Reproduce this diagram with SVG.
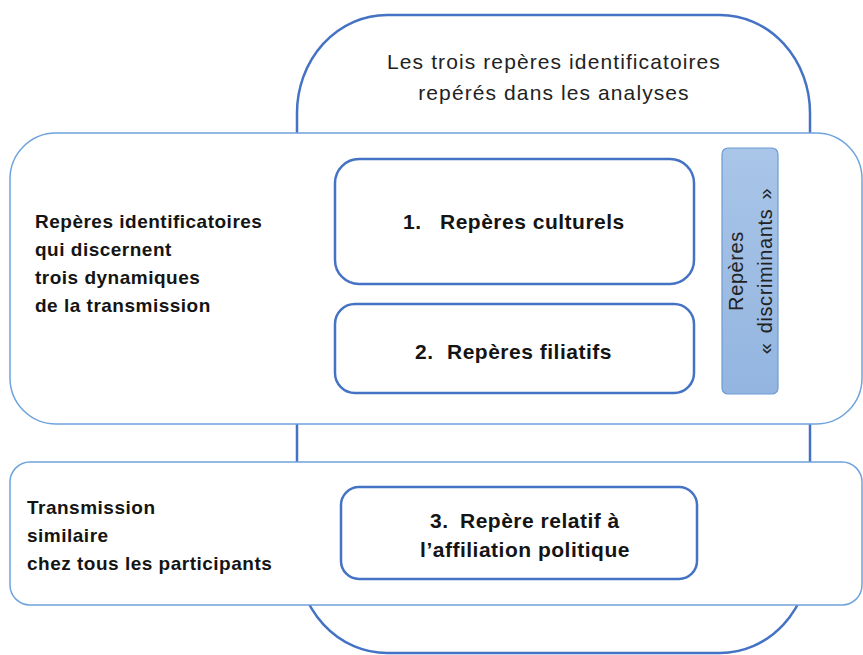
<svg xmlns="http://www.w3.org/2000/svg" width="863" height="655" viewBox="0 0 863 655">
  <style>
    .frame { fill: #ffffff; stroke: #4472C4; stroke-width: 2.5; }
    .band { fill: #ffffff; stroke: #6FA3DC; stroke-width: 1.5; }
    .item { fill: #ffffff; stroke: #4472C4; stroke-width: 2.5; }
    .tag { fill: url(#tagFill); stroke: #6D9BD3; stroke-width: 1.2; }
    text { font-family: "Liberation Sans", Arial, sans-serif; fill: #141414; }
    .title { font-size: 21px; letter-spacing: 1.1px; text-anchor: middle; fill: #222222; }
    .side { font-size: 19px; font-weight: bold; letter-spacing: 0.5px; }
    .label { font-size: 21px; font-weight: bold; letter-spacing: 0.5px; }
    .mid { text-anchor: middle; }
    .vert { font-size: 20px; letter-spacing: 0.6px; text-anchor: middle; fill: #222222; }
  </style>
  <defs>
    <linearGradient id="tagFill" x1="0" y1="0" x2="0" y2="1">
      <stop offset="0" stop-color="#A9C5E8"/>
      <stop offset="1" stop-color="#93B5E0"/>
    </linearGradient>
  </defs>

  <!-- outer frame holding the three markers -->
  <g id="frame">
    <rect class="frame" x="297" y="15" width="513" height="638" rx="90" ry="98"/>
    <text class="title" x="554" y="69">Les trois repères identificatoires</text>
    <text class="title" x="554" y="100">repérés dans les analyses</text>
  </g>

  <!-- upper band: discriminating markers -->
  <g id="band-discern">
    <rect class="band" x="10" y="133" width="852" height="291" rx="46"/>
    <text class="side" x="35" y="228">Repères identificatoires</text>
    <text class="side" x="35" y="256">qui discernent</text>
    <text class="side" x="35" y="284">trois dynamiques</text>
    <text class="side" x="35" y="312">de la transmission</text>
  </g>

  <!-- lower band: shared transmission -->
  <g id="band-similar">
    <rect class="band" x="10" y="462" width="852" height="143" rx="20"/>
    <text class="side" x="27" y="514">Transmission</text>
    <text class="side" x="27" y="542">similaire</text>
    <text class="side" x="27" y="570">chez tous les participants</text>
  </g>

  <g id="marker-cultural">
    <rect class="item" x="335" y="159" width="359" height="125" rx="24"/>
    <text class="label" x="403" y="229">1.</text>
    <text class="label" x="440" y="229">Repères culturels</text>
  </g>

  <g id="marker-filiative">
    <rect class="item" x="335" y="304" width="359" height="89" rx="20"/>
    <text class="label" x="415" y="359">2.</text>
    <text class="label" x="447" y="359">Repères filiatifs</text>
  </g>

  <g id="marker-political">
    <rect class="item" x="341" y="487" width="356" height="92" rx="18"/>
    <text class="label" x="430" y="528">3.</text>
    <text class="label" x="460" y="528">Repère relatif à</text>
    <text class="label mid" x="525" y="557">l’affiliation politique</text>
  </g>

  <g id="tag-discriminant">
    <rect class="tag" x="722" y="148" width="56" height="246" rx="6"/>
    <g transform="translate(750,271) rotate(-90)">
      <text class="vert" x="0" y="-7">Repères</text>
      <text class="vert" x="0" y="22" word-spacing="3px">« discriminants »</text>
    </g>
  </g>

  <g id="connectors"/>
</svg>
